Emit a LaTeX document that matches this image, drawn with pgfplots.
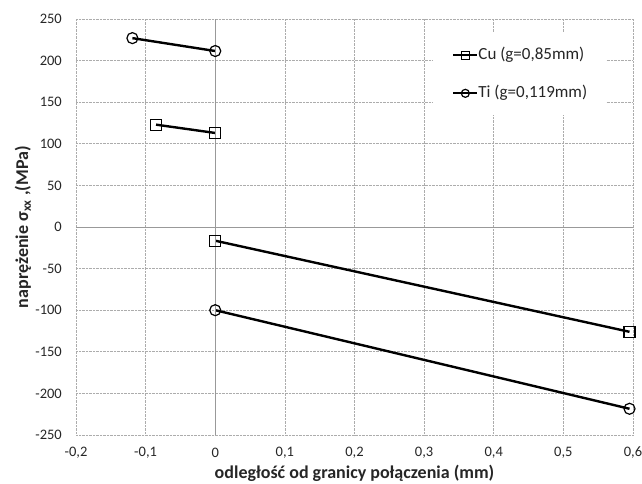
\documentclass[border=0pt]{standalone}
\usepackage{pgfplots}
\pgfplotsset{compat=1.18}
\usepackage{fontspec}
\setmainfont{Carlito}

\begin{document}
\begin{tikzpicture}
\begin{axis}[
    scale only axis,
    width=557pt, height=416pt,
    xmin=-0.2, xmax=0.6,
    ymin=-250, ymax=250,
    xtick distance=0.1,
    ytick distance=50,
    axis line style={draw=none},
    tick style={draw=none},
    grid=major,
    major grid style={gray!65, densely dotted, line width=0.6pt},
    ticklabel style={font=\fontsize{14.5}{16}\selectfont, text=black!85},
    /pgf/number format/assume math mode=true,
    /pgf/number format/use comma,
    /pgf/number format/fixed,
    xticklabel style={anchor=center, yshift=-18pt},
    yticklabel style={anchor=east, inner sep=0pt, xshift=-14pt},
    xlabel={odległość od granicy połączenia (mm)},
    ylabel={naprężenie σ\textsubscript{xx} ,(MPa)},
    label style={font=\fontsize{18}{20}\selectfont\bfseries, text=black!85},
    xlabel style={at={(axis description cs:0.5,0)}, anchor=center, yshift=-38pt},
    ylabel style={at={(axis description cs:0,0.5)}, anchor=center, yshift=53pt},
    unbounded coords=jump,
    legend style={at={(axis description cs:0.641,0.966)}, anchor=north west,
        draw=none, fill=white,
        font=\fontsize{17}{19}\selectfont, text=black!85,
        nodes={inner sep=0pt, text height=12pt, text depth=4pt},
        row sep=22pt, inner xsep=19pt, inner ysep=14pt},
    legend cell align=left,
    legend image code/.code={
        \draw[#1, line width=2.2pt, mark size=4pt, mark repeat=2, mark phase=2]
            plot coordinates {(0pt,0pt) (12pt,0pt) (24pt,0pt)};
    },
]
\coordinate (ll) at (rel axis cs:0,0);
\coordinate (ur) at (rel axis cs:1,1);
\addplot[black, line width=2.4pt, mark=square, mark size=5.5pt,
    mark options={fill=white, line width=1.2pt}]
    coordinates {(-0.085,123) (0,113) (0.3,nan) (0,-16.5) (0.595,-126)};
\addlegendentry{Cu (g=0,85mm)}
\addplot[black, line width=2.4pt, mark=o, mark size=5.5pt,
    mark options={fill=white, line width=1.2pt}]
    coordinates {(-0.119,227) (0,211.5) (0.3,nan) (0,-100) (0.595,-218.5)};
\addlegendentry{Ti (g=0,119mm)}
\draw[gray!80, line width=0.7pt] (axis cs:0,-250) -- (axis cs:0,250);
\draw[gray!80, line width=0.7pt] (axis cs:-0.2,0) -- (axis cs:0.6,0);
\end{axis}
\pgfresetboundingbox
\useasboundingbox ([shift={(-76pt,-49pt)}]ll) rectangle ([shift={(9pt,19pt)}]ur);
\end{tikzpicture}
\end{document}
